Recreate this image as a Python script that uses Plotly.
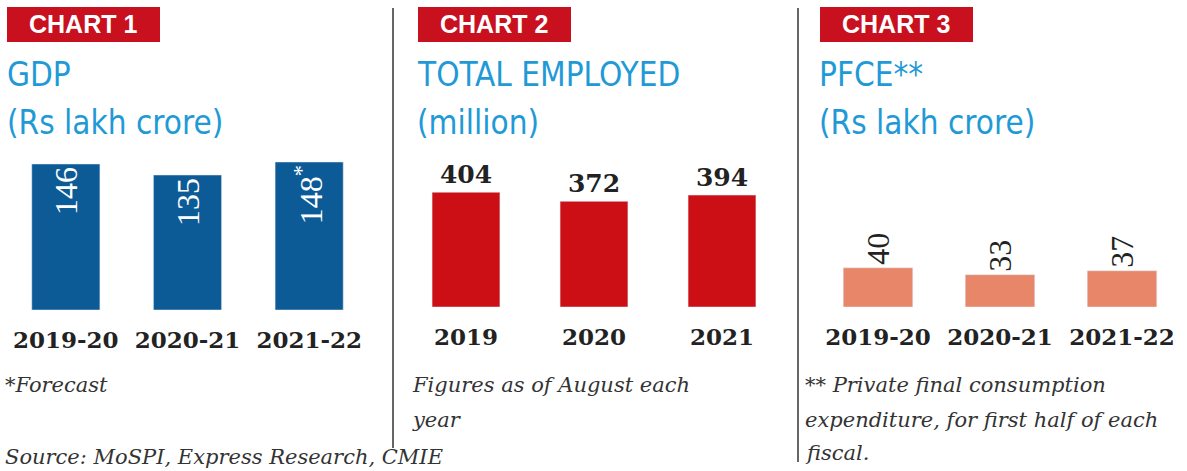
import plotly.graph_objects as go

W, H = 1187, 471

# ---- data ----
gdp_years = ["2019-20", "2020-21", "2021-22"]
gdp_values = [146, 135, 148]
gdp_labels = ["146", "135", "148<sup>*</sup>"]

emp_years = ["2019", "2020", "2021"]
emp_values = [404, 372, 394]

pfce_years = ["2019-20", "2020-21", "2021-22"]
pfce_values = [40, 33, 37]

BLUE_TITLE = "#1f9ad6"
RED_BOX = "#c8101e"
SERIF = "DejaVu Serif, Liberation Serif, serif"
COND = "DejaVu Sans Condensed, Roboto, sans-serif"


def px(x):
    return x / W


def py(y):
    return 1 - y / H


fig = go.Figure()

fig.add_trace(go.Bar(
    x=gdp_years, y=gdp_values, text=gdp_labels, xaxis="x", yaxis="y",
    marker_color="#0c5b96", width=0.56,
    textposition="inside", insidetextanchor="end", textangle=-90,
    textfont=dict(family="Liberation Serif, serif", size=32, color="white"),
    hoverinfo="skip",
))
fig.add_trace(go.Bar(
    x=emp_years, y=emp_values, text=[str(v) for v in emp_values],
    xaxis="x2", yaxis="y2",
    marker_color="#cc0e15", width=0.53,
    textposition="outside", textangle=0, cliponaxis=False,
    textfont=dict(family=SERIF, size=25, color="#222222", weight="bold"),
    hoverinfo="skip",
))
fig.add_trace(go.Bar(
    x=pfce_years, y=pfce_values, text=[str(v) for v in pfce_values],
    xaxis="x3", yaxis="y3",
    marker_color="#e8866a", width=0.57,
    textposition="outside", textangle=-90, cliponaxis=False,
    textfont=dict(family="Liberation Serif, serif", size=32, color="#222222"),
    hoverinfo="skip",
))

tickfont = dict(family=SERIF, size=23, color="#222222", weight="bold")
xcommon = dict(type="category", showgrid=False, zeroline=False, showline=False,
               ticks="", tickfont=tickfont, ticklabelstandoff=14, fixedrange=True)
ycommon = dict(showgrid=False, zeroline=False, showline=False, showticklabels=False,
               ticks="", fixedrange=True)

fig.update_layout(
    width=W, height=H,
    margin=dict(l=0, r=0, t=0, b=0),
    paper_bgcolor="white", plot_bgcolor="white",
    showlegend=False,
    xaxis=dict(domain=[px(5), px(370)], anchor="y", range=[-0.5, 2.5], **xcommon),
    yaxis=dict(domain=[py(310), py(110)], anchor="x", range=[0, 200], **ycommon),
    xaxis2=dict(domain=[px(402), px(786)], anchor="y2", range=[-0.5, 2.5], **xcommon),
    yaxis2=dict(domain=[py(307), py(165)], anchor="x2", range=[0, 500], **ycommon),
    xaxis3=dict(domain=[px(817), px(1183)], anchor="y3", range=[-0.5, 2.5], **xcommon),
    yaxis3=dict(domain=[py(307), py(209)], anchor="x3", range=[0, 100], **ycommon),
)

shapes = []
annotations = []

# chart badges
for x0, label in [(7, "CHART 1"), (418, "CHART 2"), (820, "CHART 3")]:
    shapes.append(dict(type="rect", xref="paper", yref="paper",
                       x0=px(x0), x1=px(x0 + 153), y0=py(42), y1=py(7),
                       fillcolor=RED_BOX, line=dict(width=0), layer="below"))
    annotations.append(dict(xref="paper", yref="paper", x=px(x0 + 76), y=py(24.5),
                            text=label, showarrow=False, xanchor="center", yanchor="middle",
                            font=dict(family="Liberation Sans, Arial, sans-serif", size=25,
                                      color="white", weight="bold")))

# titles
titles = [(5, "GDP", "(Rs lakh crore)"),
          (415, "TOTAL EMPLOYED", "(million)"),
          (817, "PFCE**", "(Rs lakh crore)")]
for x0, t1, t2 in titles:
    for y, t in [(75, t1), (123, t2)]:
        annotations.append(dict(xref="paper", yref="paper", x=px(x0), y=py(y),
                                text=t, showarrow=False, xanchor="left", yanchor="middle",
                                font=dict(family=COND, size=33, color=BLUE_TITLE)))

# separators
shapes.append(dict(type="line", xref="paper", yref="paper", x0=px(393), x1=px(393),
                   y0=py(8), y1=py(448), line=dict(color="#666666", width=2)))
shapes.append(dict(type="line", xref="paper", yref="paper", x0=px(798), x1=px(798),
                   y0=py(8), y1=py(462), line=dict(color="#666666", width=2)))

# notes
notes = [
    (3, 385, "*Forecast"),
    (410, 385, "Figures as of August each"),
    (410, 420, "year"),
    (803, 385, "** Private final consumption"),
    (803, 420, "expenditure, for first half of each"),
    (803, 453, "fiscal."),
]
for x0, y, t in notes:
    annotations.append(dict(xref="paper", yref="paper", x=px(x0), y=py(y),
                            text=f"<i>{t}</i>", showarrow=False, xanchor="left",
                            yanchor="middle",
                            font=dict(family=SERIF, size=21, color="#333333")))
annotations.append(dict(xref="paper", yref="paper", x=px(3), y=0,
                        text="<i>Source: MoSPI, Express Research, CMIE</i>",
                        showarrow=False, xanchor="left", yanchor="bottom",
                        font=dict(family=SERIF, size=21, color="#333333")))

fig.update_layout(shapes=shapes, annotations=annotations)

fig.write_html(
    "out.html",
    config={"displayModeBar": False, "staticPlot": True},
    post_script="document.body.style.margin='0';document.body.style.padding='0';"
                "document.documentElement.style.overflow='hidden';",
)
